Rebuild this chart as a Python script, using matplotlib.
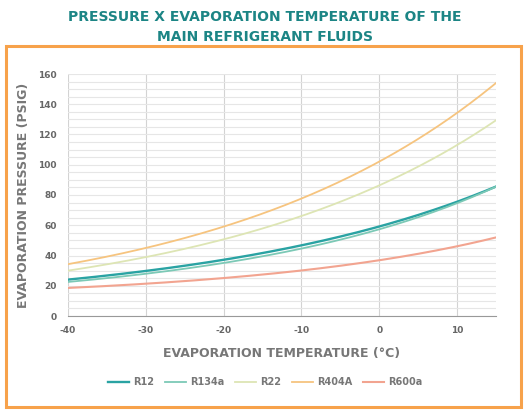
import matplotlib
matplotlib.use("Agg")
import matplotlib.pyplot as plt
from matplotlib.patches import Rectangle
import numpy as np

plt.rcParams["axes.unicode_minus"] = False

temps = [-40, -30, -20, -10, 0, 10, 15]
r12 = [24, 30, 37, 46.5, 59.5, 75.5, 85.5]
r134a = [22.5, 28, 35, 44.5, 57.5, 74.5, 85.5]
r22 = [30, 39, 50.5, 66, 86.5, 114, 128.5]
r404a = [34.5, 44.7, 58.5, 78, 103, 135, 152.7]
r600a = [18.5, 21.5, 25, 30, 37, 46, 52]

series_names = ["R12", "R134a", "R22", "R404A", "R600a"]
series_vals = [r12, r134a, r22, r404a, r600a]
colors = ["#2aa3a3", "#7cc9b6", "#dde5b4", "#f6c47f", "#f2a490"]
widths = [1.7, 1.3, 1.3, 1.3, 1.5]

xticks = [-40, -30, -20, -10, 0, 10]
yticks = [0, 20, 40, 60, 80, 100, 120, 140, 160]

fig = plt.figure(figsize=(5.3, 4.12), dpi=100)
W, H = 530, 412

fig.text(0.5, 1 - 17/H, "PRESSURE X EVAPORATION TEMPERATURE OF THE", ha="center", va="center",
         color="#1c8585", fontsize=10, fontweight="bold")
fig.text(0.5, 1 - 37/H, "MAIN REFRIGERANT FLUIDS", ha="center", va="center",
         color="#1c8585", fontsize=10, fontweight="bold")

fig.patches.append(Rectangle((6/W, 5/H), (521-6)/W, (407-46)/H, transform=fig.transFigure,
                             fill=False, edgecolor="#f7a24b", linewidth=2.2))

ax = fig.add_axes([68/W, 1 - 316/H, (496-68)/W, (316-74)/H])

xs = np.linspace(-40, 15, 200)
for name, vals, c, lw in zip(series_names, series_vals, colors, widths):
    coef = np.polyfit(temps, np.log(vals), 2)
    ax.plot(xs, np.exp(np.polyval(coef, xs)), color=c, lw=lw, label=name)

ax.set_xlim(-40, 15)
ax.set_ylim(0, 160)
ax.set_xticks(xticks)
ax.set_yticks(yticks)
ax.set_yticks(np.arange(0, 161, 5), minor=True)
ax.grid(axis="y", which="both", color="#e6e6e6", lw=0.8)
ax.grid(axis="x", which="major", color="#d3d3d3", lw=0.8)
ax.set_axisbelow(True)
for s in ["top", "right", "left"]:
    ax.spines[s].set_visible(False)
ax.spines["bottom"].set_linestyle((0, (1.5, 1)))
ax.spines["bottom"].set_color("#999999")
ax.tick_params(axis="both", which="both", length=0, labelsize=6.5, labelcolor="#666666")
ax.tick_params(axis="x", pad=7)
ax.tick_params(axis="y", pad=8)
for lbl in ax.get_xticklabels() + ax.get_yticklabels():
    lbl.set_fontweight("bold")

ax.set_xlabel("EVAPORATION TEMPERATURE (°C)", fontsize=9, fontweight="bold", color="#777777", labelpad=9)
ax.set_ylabel("EVAPORATION PRESSURE (PSIG)", fontsize=9, fontweight="bold", color="#777777", labelpad=6)

leg = fig.legend(loc="center", bbox_to_anchor=(0.5, 1 - 382/H), ncol=5, frameon=False,
                 fontsize=7, handlelength=2.2, columnspacing=1.1, handletextpad=0.4)
for t in leg.get_texts():
    t.set_color("#777777")
    t.set_fontweight("bold")

fig.savefig("out.png", dpi=100)
